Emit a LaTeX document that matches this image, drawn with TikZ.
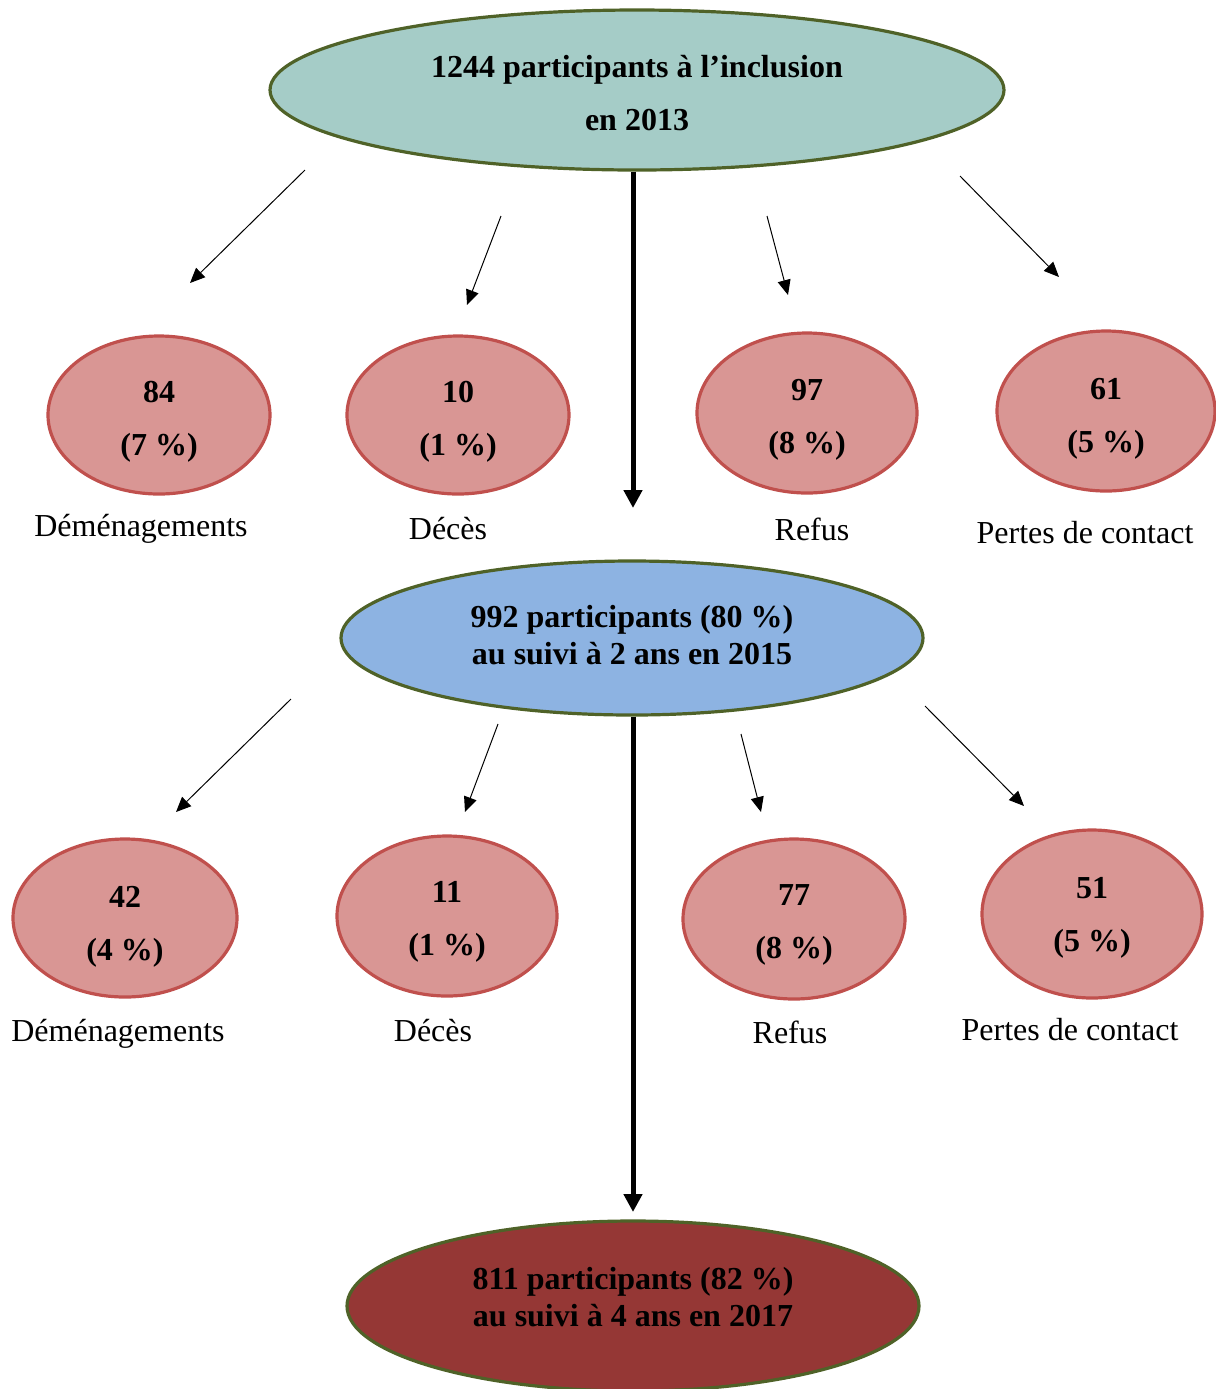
\documentclass[tikz,border=0pt]{standalone}
\usepackage{fontspec}
\setmainfont{Liberation Serif}
\usetikzlibrary{arrows.meta,shapes.geometric}

\definecolor{olivedge}{RGB}{79,98,40}
\definecolor{inclfill}{RGB}{165,204,199}
\definecolor{suivifill}{RGB}{141,179,226}
\definecolor{finalfill}{RGB}{149,55,53}
\definecolor{countfill}{RGB}{217,150,148}
\definecolor{countedge}{RGB}{192,80,77}

\tikzset{
  bigell/.style={ellipse,draw=olivedge,line width=1.6pt,inner sep=0pt,align=center,
    font=\fontsize{16}{18.5}\selectfont\bfseries},
  countell/.style={ellipse,draw=countedge,fill=countfill,line width=1.6pt,inner sep=0pt,
    minimum width=111pt,minimum height=79pt,align=center,
    font=\fontsize{16}{26.5}\selectfont\bfseries},
  reason/.style={font=\fontsize{16}{19}\selectfont},
  thinarrow/.style={line width=0.5pt,-{Triangle[length=7.5pt,width=6.5pt]}},
  thickarrow/.style={line width=2.5pt,-{Triangle[length=9pt,width=9pt]}}
}

\begin{document}
\begin{tikzpicture}[x=0.5pt,y=-0.5pt]
  \useasboundingbox (0,0) rectangle (1216,1389);

  % main stages
  \node[bigell,fill=inclfill,minimum width=367pt,minimum height=80pt,
    font=\fontsize{16}{26.5}\selectfont\bfseries] (incl) at (637,90)
    {\rule{0pt}{14pt}1244 participants à l’inclusion\\en 2013};
  \node[bigell,fill=suivifill,minimum width=291pt,minimum height=77pt] (suivi2) at (632,638)
    {992 participants (80~\%)\\au suivi à 2 ans en 2015\rule[-3pt]{0pt}{3pt}};
  \node[bigell,fill=finalfill,minimum width=286pt,minimum height=85pt] (suivi4) at (633,1306)
    {811 participants (82~\%)\\au suivi à 4 ans en 2017\rule[-9pt]{0pt}{9pt}};

  % losses 2013 -> 2015
  \node[countell] (dem1) at (159,415) {\rule{0pt}{17pt}84\\(7~\%)};
  \node[countell] (dec1) at (458,415) {\rule{0pt}{17pt}10\\(1~\%)};
  \node[countell,minimum width=110pt,minimum height=80pt] (ref1) at (807,413) {\rule{0pt}{17pt}97\\(8~\%)};
  \node[countell,minimum width=109pt,minimum height=80pt] (per1) at (1106,411) {\rule{0pt}{18pt}61\\(5~\%)};

  \node[reason] (ldem1) at (141,529) {Déménagements};
  \node[reason] (ldec1) at (448,529) {Décès};
  \node[reason] (lref1) at (812,529) {Refus};
  \node[reason] (lper1) at (1085,533) {Pertes de contact};

  % losses 2015 -> 2017
  \node[countell,minimum width=112pt] (dem2) at (125,918) {\rule{0pt}{19pt}42\\(4~\%)};
  \node[countell,minimum width=110pt,minimum height=80pt] (dec2) at (447,916) {\rule{0pt}{16pt}11\\(1~\%)};
  \node[countell,minimum width=111pt,minimum height=80pt] (ref2) at (794,919) {\rule{0pt}{16pt}77\\(8~\%)};
  \node[countell,minimum width=110pt,minimum height=84pt] (per2) at (1092,914) {\rule{0pt}{14pt}51\\(5~\%)};

  \node[reason] (ldem2) at (118,1034) {Déménagements};
  \node[reason] (ldec2) at (433,1031) {Décès};
  \node[reason] (lref2) at (790,1032) {Refus};
  \node[reason] (lper2) at (1070,1030) {Pertes de contact};

  % arrow ends
  \coordinate (down1) at (633,508);
  \coordinate (down2) at (633,1212);
  \coordinate (s1a) at (305,170);  \coordinate (e1a) at (190,283);
  \coordinate (s1b) at (501,216);  \coordinate (e1b) at (467,305);
  \coordinate (s1c) at (767,216);  \coordinate (e1c) at (788,295);
  \coordinate (s1d) at (960,176);  \coordinate (e1d) at (1059,277);
  \coordinate (s2a) at (291,699);  \coordinate (e2a) at (176,812);
  \coordinate (s2b) at (498,724);  \coordinate (e2b) at (465,812);
  \coordinate (s2c) at (741,734);  \coordinate (e2c) at (761,812);
  \coordinate (s2d) at (925,706);  \coordinate (e2d) at (1024,806);

  \draw[thickarrow] (incl.south -| down1) -- (down1);
  \draw[thickarrow] (suivi2.south -| down2) -- (down2);

  \draw[thinarrow] (s1a) -- (e1a);
  \draw[thinarrow] (s1b) -- (e1b);
  \draw[thinarrow] (s1c) -- (e1c);
  \draw[thinarrow] (s1d) -- (e1d);
  \draw[thinarrow] (s2a) -- (e2a);
  \draw[thinarrow] (s2b) -- (e2b);
  \draw[thinarrow] (s2c) -- (e2c);
  \draw[thinarrow] (s2d) -- (e2d);
\end{tikzpicture}
\end{document}
